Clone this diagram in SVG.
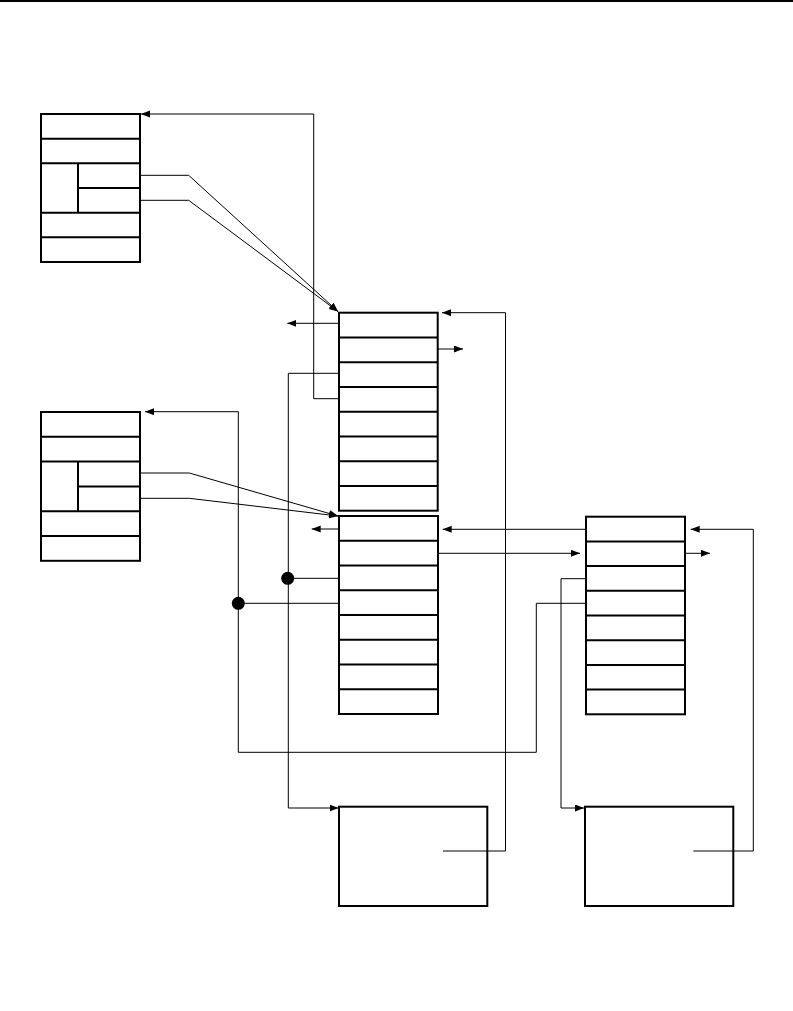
<svg xmlns="http://www.w3.org/2000/svg" width="793" height="1011" viewBox="0 0 793 1011">
<style>
.box{fill:#fff;stroke:#000;stroke-width:2}
.ln{fill:none;stroke:#000;stroke-width:2}
.c{fill:none;stroke:#000;stroke-width:1}
.dot{fill:#000}
</style>
<defs>
<marker id="ah" markerUnits="userSpaceOnUse" markerWidth="10" markerHeight="8" refX="9" refY="3.5" orient="auto">
<path d="M0,0 L9,3.5 L0,7 z" fill="#000"/>
</marker>
</defs>
<rect x="0" y="0" width="793" height="2" fill="#000"/>
<g id="boxA">
<rect class="box" x="41" y="114" width="99" height="148"/>
<path class="ln" d="M41,138.7H140M41,163.3H140M78,188H140M41,212.7H140M41,237.3H140M78,163.3V212.7"/>
</g>
<g id="boxA2">
<rect class="box" x="41" y="412" width="99" height="148.8"/>
<path class="ln" d="M41,436.8H140M41,461.6H140M78,486.4H140M41,511.2H140M41,536H140M78,461.6V511.2"/>
</g>
<g id="boxB">
<rect class="box" x="339" y="312.7" width="98.7" height="198"/>
<path class="ln" d="M339,337.5H437.7M339,362.2H437.7M339,387H437.7M339,411.7H437.7M339,436.5H437.7M339,461.2H437.7M339,486H437.7"/>
</g>
<g id="boxC">
<rect class="box" x="339" y="516" width="99" height="198"/>
<path class="ln" d="M339,540.75H438M339,565.5H438M339,590.25H438M339,615H438M339,639.75H438M339,664.5H438M339,689.25H438"/>
</g>
<g id="boxD">
<rect class="box" x="586" y="516.7" width="99" height="197.6"/>
<path class="ln" d="M586,541.4H685M586,566.1H685M586,590.8H685M586,615.5H685M586,640.2H685M586,664.9H685M586,689.6H685"/>
</g>
<g id="boxE">
<rect class="box" x="339" y="806.7" width="148.3" height="99.3"/>
</g>
<g id="boxF">
<rect class="box" x="585" y="806.7" width="148.3" height="99.3"/>
</g>
<g id="connectors">
<polyline class="c" points="140,175.3 188.7,175.3 338,311.5" marker-end="url(#ah)"/>
<polyline class="c" points="140,200.3 188.7,200.3 338,311.5" marker-end="url(#ah)"/>
<polyline class="c" points="339,398.7 313.7,398.7 313.7,114 141,114" marker-end="url(#ah)"/>
<line class="c" x1="339" y1="323.3" x2="287.3" y2="323.3" marker-end="url(#ah)"/>
<line class="c" x1="438" y1="349" x2="463" y2="349" marker-end="url(#ah)"/>
<polyline class="c" points="443,851 505.5,851 505.5,312.7 442,312.7" marker-end="url(#ah)"/>
<polyline class="c" points="339,373.3 288.3,373.3 288.3,808 338.5,808" marker-end="url(#ah)"/>
<polyline class="c" points="140,473 189.3,473 338,516" marker-end="url(#ah)"/>
<polyline class="c" points="140,498.3 189.3,498.3 338,516" marker-end="url(#ah)"/>
<line class="c" x1="339" y1="529" x2="311.7" y2="529" marker-end="url(#ah)"/>
<line class="c" x1="586" y1="529.3" x2="442.7" y2="529.3" marker-end="url(#ah)"/>
<line class="c" x1="438" y1="553.3" x2="580" y2="553.3" marker-end="url(#ah)"/>
<line class="c" x1="685" y1="553.3" x2="710" y2="553.3" marker-end="url(#ah)"/>
<polyline class="c" points="693.3,851 753.3,851 753.3,529.3 690.7,529.3" marker-end="url(#ah)"/>
<polyline class="c" points="586,578.7 561,578.7 561,808 584,808" marker-end="url(#ah)"/>
<polyline class="c" points="586,603.3 536.3,603.3 536.3,752.3 238.3,752.3 238.3,411.7 145,411.7" marker-end="url(#ah)"/>
<line class="c" x1="339" y1="603.3" x2="238.3" y2="603.3"/>
<circle class="dot" cx="238.3" cy="603.3" r="6.5"/>
<line class="c" x1="339" y1="578.3" x2="287.7" y2="578.3"/>
<circle class="dot" cx="287.7" cy="578.3" r="6.5"/>
</g>
</svg>
